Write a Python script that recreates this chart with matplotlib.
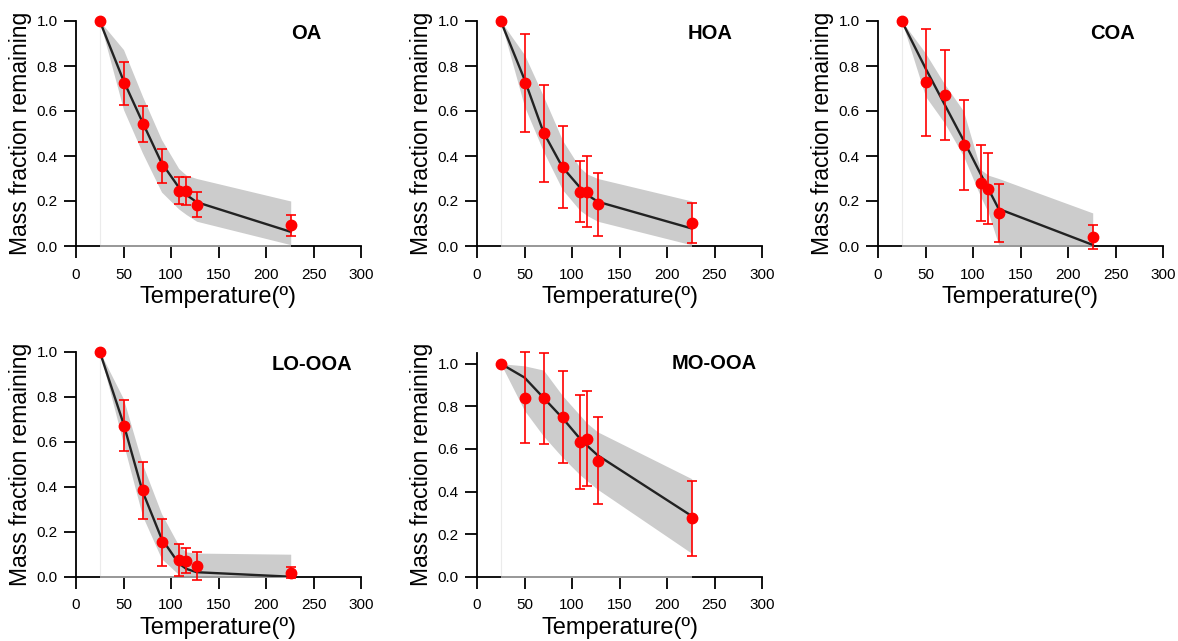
import matplotlib
matplotlib.use("Agg")
import matplotlib.pyplot as plt
import numpy as np

plt.rcParams['font.family'] = ['Liberation Sans', 'DejaVu Sans']

# ---- data ----
temperature = [25, 50, 70, 90, 108, 116, 127, 226]
panels = ["OA", "HOA", "COA", "LO-OOA", "MO-OOA"]

oa_mfr = [1.0, 0.724, 0.542, 0.357, 0.245, 0.245, 0.184, 0.093]
oa_err = [0.0, 0.096, 0.079, 0.075, 0.060, 0.063, 0.056, 0.047]
oa_fit = [1.0, 0.735, 0.550, 0.370, 0.262, 0.228, 0.195, 0.063]
oa_upper = [1.0, 0.873, 0.665, 0.473, 0.345, 0.315, 0.300, 0.200]
oa_lower = [1.0, 0.606, 0.413, 0.240, 0.165, 0.140, 0.110, 0.006]

hoa_mfr = [1.0, 0.726, 0.501, 0.350, 0.242, 0.242, 0.185, 0.102]
hoa_err = [0.0, 0.218, 0.215, 0.183, 0.137, 0.157, 0.141, 0.087]
hoa_fit = [1.0, 0.740, 0.505, 0.350, 0.262, 0.228, 0.197, 0.078]
hoa_upper = [1.0, 0.850, 0.665, 0.470, 0.350, 0.320, 0.300, 0.200]
hoa_lower = [1.0, 0.620, 0.420, 0.250, 0.160, 0.135, 0.110, 0.005]

coa_mfr = [1.0, 0.727, 0.670, 0.450, 0.281, 0.255, 0.147, 0.040]
coa_err = [0.0, 0.238, 0.200, 0.200, 0.170, 0.157, 0.128, 0.052]
coa_fit = [1.0, 0.790, 0.630, 0.470, 0.320, 0.255, 0.165, 0.005]
coa_upper = [1.0, 0.857, 0.720, 0.600, 0.340, 0.315, 0.300, 0.147]
coa_lower = [1.0, 0.665, 0.547, 0.400, 0.220, 0.150, 0.006, 0.0]

looa_mfr = [1.0, 0.671, 0.384, 0.153, 0.074, 0.071, 0.049, 0.018]
looa_err = [0.0, 0.113, 0.127, 0.105, 0.070, 0.056, 0.062, 0.025]
looa_fit = [1.0, 0.680, 0.380, 0.170, 0.060, 0.035, 0.020, 0.0]
looa_upper = [1.0, 0.790, 0.500, 0.280, 0.140, 0.110, 0.105, 0.100]
looa_lower = [1.0, 0.590, 0.270, 0.080, 0.010, 0.005, 0.0, 0.0]

mooa_mfr = [1.0, 0.840, 0.837, 0.750, 0.634, 0.648, 0.545, 0.274]
mooa_err = [0.0, 0.214, 0.213, 0.218, 0.220, 0.224, 0.205, 0.176]
mooa_fit = [1.0, 0.935, 0.840, 0.745, 0.650, 0.615, 0.570, 0.285]
mooa_upper = [1.0, 0.990, 0.970, 0.850, 0.760, 0.720, 0.680, 0.460]
mooa_lower = [1.0, 0.780, 0.660, 0.560, 0.480, 0.450, 0.410, 0.110]

series = [
    (oa_mfr, oa_err, oa_fit, oa_upper, oa_lower),
    (hoa_mfr, hoa_err, hoa_fit, hoa_upper, hoa_lower),
    (coa_mfr, coa_err, coa_fit, coa_upper, coa_lower),
    (looa_mfr, looa_err, looa_fit, looa_upper, looa_lower),
    (mooa_mfr, mooa_err, mooa_fit, mooa_upper, mooa_lower),
]
x_ticks = [0, 50, 100, 150, 200, 250, 300]
y_ticks = [0.0, 0.2, 0.4, 0.6, 0.8, 1.0]
y_max = [1.0, 1.0, 1.0, 1.0, 1.05]

# ---- layout ----
W, H = 1178, 641
fig = plt.figure(figsize=(W / 100, H / 100), dpi=100)
lefts = [76, 477, 878, 76, 477]
zero_y = [246, 246, 246, 576.7, 576.7]
unit_px = [225, 225, 225, 225, 213]
title_x = [0.862, 0.898, 0.90, 0.971, 0.98]
title_y = [0.944, 0.944, 0.944, 0.945, 0.954]

for i, name in enumerate(panels):
    mfr, err, fit, upper, lower = series[i]
    hpx = unit_px[i] * y_max[i]
    ax = fig.add_axes([lefts[i] / W, 1 - zero_y[i] / H, 285 / W, hpx / H])
    ax.set_xlim(0, 300)
    ax.set_ylim(0, y_max[i])

    ax.fill_between(temperature, lower, upper, color='#cccccc', lw=0, zorder=1)
    ax.plot([temperature[0], temperature[0]], [0, mfr[0]], color='#ebebeb',
            lw=0.8, zorder=0.9)
    ax.plot([temperature[0], temperature[-1]], [0, 0], color='#a8a8a8', lw=1.3,
            zorder=3, clip_on=False, solid_capstyle='butt')
    ax.plot(temperature, fit, color='#222222', lw=1.7, zorder=3)
    ax.errorbar(temperature, mfr, yerr=err, fmt='none', ecolor='#ff0000',
                elinewidth=1.2, capsize=3.5, capthick=1.2, zorder=4, clip_on=False)
    ax.plot(temperature, mfr, 'o', color='#ff0000', ms=7.5, mec='#ff0000',
            zorder=5, clip_on=False)

    for s in ['top', 'right']:
        ax.spines[s].set_visible(False)
    for s in ['left', 'bottom']:
        ax.spines[s].set_linewidth(1.3)
        ax.spines[s].set_color('black')
    ax.set_xticks(x_ticks)
    ax.set_yticks(y_ticks)
    ax.set_yticklabels([f"{v:.1f}" for v in y_ticks])
    ax.tick_params(axis='both', direction='out', length=8.5, width=1.3,
                   labelsize=11, colors='black')
    ax.tick_params(axis='x', pad=7)
    ax.tick_params(axis='y', pad=4.5)

    ax.set_xlabel("Temperature(º)", fontsize=17)
    ax.set_ylabel("Mass fraction remaining", fontsize=16.5)
    ax.xaxis.set_label_coords(0.5, -40 / hpx)
    ax.yaxis.set_label_coords(-44 / 285, 0.5)

    ax.text(title_x[i], title_y[i], name, transform=ax.transAxes, ha='right',
            va='center', fontsize=14.5, fontweight='bold')
    ax.set_facecolor('none')

fig.savefig("out.png", dpi=100)
